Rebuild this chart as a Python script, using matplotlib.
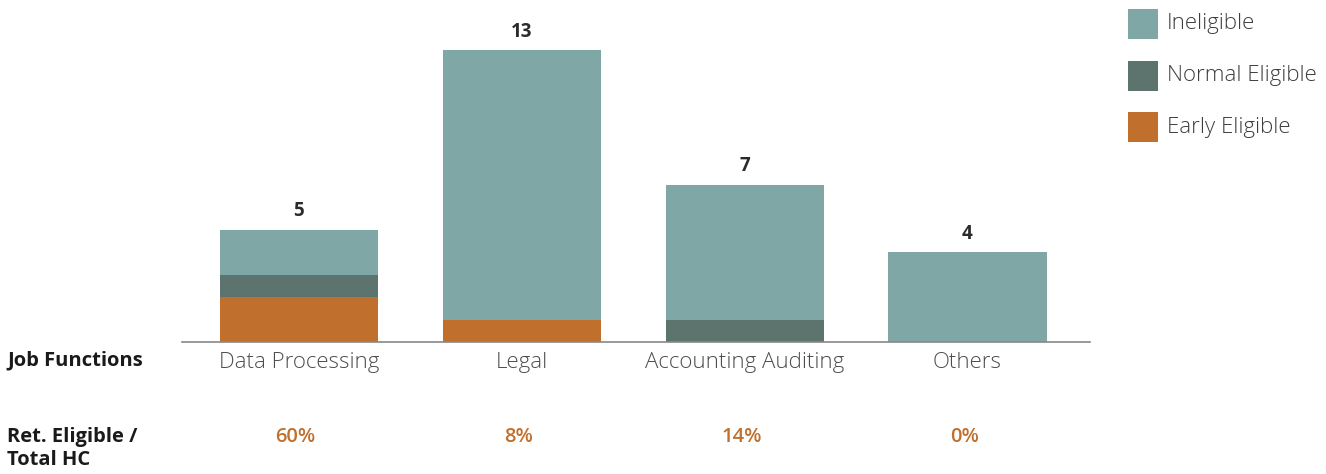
import matplotlib
matplotlib.use("Agg")
import matplotlib.pyplot as plt
from matplotlib.patches import Rectangle
from matplotlib.transforms import blended_transform_factory
import numpy as np

categories = ["Data Processing", "Legal", "Accounting Auditing", "Others"]
early_eligible = [2, 1, 0, 0]
normal_eligible = [1, 0, 1, 0]
ineligible = [2, 12, 6, 4]

series_names = ["Ineligible", "Normal Eligible", "Early Eligible"]
colors = {
    "Ineligible": "#7fa7a5",
    "Normal Eligible": "#5c736e",
    "Early Eligible": "#c0702c",
}

plt.rcParams["font.family"] = ["Open Sans", "DejaVu Sans"]

W, H = 1326, 474
fig = plt.figure(figsize=(W / 100, H / 100), dpi=100)
ax = fig.add_axes([182 / W, (H - 342) / H, 908 / W, 14 * 22.45 / H])

x = np.arange(len(categories))
early = np.array(early_eligible)
normal = np.array(normal_eligible)
inel = np.array(ineligible)
totals = early + normal + inel
width = 0.71

ax.bar(x, early, width, color=colors["Early Eligible"])
ax.bar(x, normal, width, bottom=early, color=colors["Normal Eligible"])
ax.bar(x, inel, width, bottom=early + normal, color=colors["Ineligible"])

for xi, t in zip(x, totals):
    ax.text(xi, t + 0.6, f"{t}", ha="center", va="baseline", fontsize=13.5,
            fontweight="bold", color="#2b2b2b", clip_on=False)

ax.set_xlim(-0.525, 3.55)
ax.set_ylim(0, 14)
ax.set_yticks([])
ax.set_xticks(x)
ax.set_xticklabels(categories, fontsize=16, color="#4d4d4d", fontweight="light")
ax.tick_params(axis="x", length=0, pad=7)
for side in ["top", "right", "left"]:
    ax.spines[side].set_visible(False)
ax.spines["bottom"].set_color("#888888")
ax.spines["bottom"].set_linewidth(1.2)

# row headers on the left
header = dict(ha="left", va="center", fontsize=14.5, fontweight="bold", color="#1a1a1a")
fig.text(7 / W, 1 - 360 / H, "Job Functions", **header)
fig.text(7 / W, 1 - 437 / H, "Ret. Eligible /", **header)
fig.text(7 / W, 1 - 460 / H, "Total HC", **header)

# share of retirement-eligible headcount per job function
share = (early + normal) / totals * 100
row_tf = blended_transform_factory(ax.transData, fig.transFigure)
for xi, s in zip(x, share):
    ax.text(xi - 0.015, 1 - 437 / H, f"{s:.0f}%", transform=row_tf,
            ha="center", va="center", fontsize=14.5, fontweight="semibold",
            color="#c0702c", clip_on=False)

# legend: swatches with labels, top right
for i, name in enumerate(series_names):
    top = 9 + i * 51.5
    fig.patches.append(Rectangle((1128 / W, 1 - (top + 30) / H), 30 / W, 30 / H,
                                 transform=fig.transFigure, facecolor=colors[name],
                                 edgecolor="none"))
    fig.text(1167 / W, 1 - (top + 15) / H, name, ha="left", va="center",
             fontsize=16, color="#3d3d3d", fontweight="light")

fig.savefig("out.png", dpi=100)
